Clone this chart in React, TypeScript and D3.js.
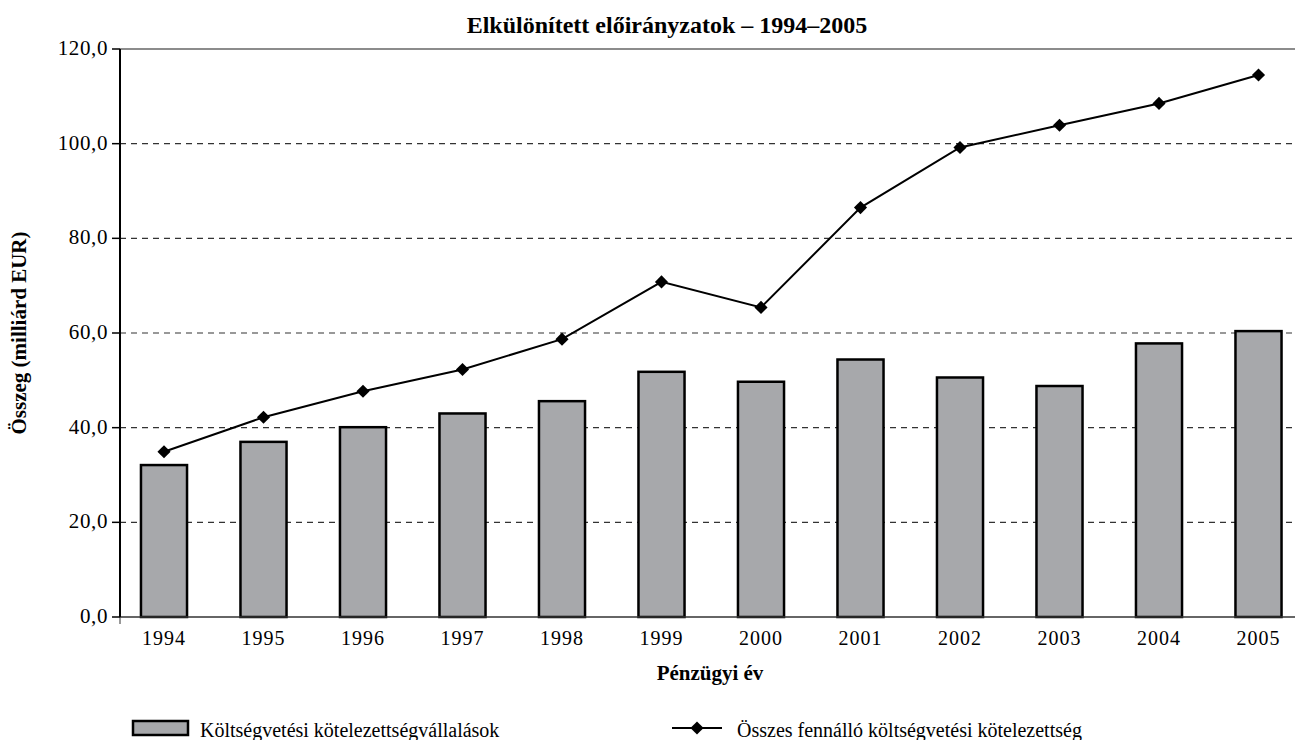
import React from 'react';
import * as d3 from 'd3';

const years = ['1994', '1995', '1996', '1997', '1998', '1999', '2000', '2001', '2002', '2003', '2004', '2005'];
const commitments = [32.1, 37.0, 40.1, 43.0, 45.6, 51.8, 49.7, 54.4, 50.6, 48.8, 57.8, 60.4];
const outstanding = [34.9, 42.2, 47.7, 52.3, 58.7, 70.8, 65.4, 86.5, 99.2, 103.9, 108.5, 114.5];
const yTicks = [0, 20, 40, 60, 80, 100, 120];

const title = 'Elkülönített előirányzatok – 1994–2005';
const yLabel = 'Összeg (milliárd EUR)';
const xLabel = 'Pénzügyi év';
const barLegend = 'Költségvetési kötelezettségvállalások';
const lineLegend = 'Összes fennálló költségvetési kötelezettség';

const W = 1295;
const H = 740;
const font = '"Liberation Serif", "DejaVu Serif", serif';

export default function App() {
  const axisX = 120;
  const x = d3.scaleBand<string>().domain(years).range([114.25, 1308.25]).paddingInner(0.537).paddingOuter(0.2685);
  const y = d3.scaleLinear().domain([0, 120]).range([617, 49]);
  const cx = (d: string) => (x(d) ?? 0) + x.bandwidth() / 2;

  const line = d3.line<number>()
    .x((_, i) => cx(years[i]))
    .y((v) => y(v));

  const diamond = d3.symbol().type(d3.symbolDiamond2).size(110)();
  const fmt = (v: number) => v.toFixed(1).replace('.', ',');

  return (
    <>
      <style>{'body{margin:0}'}</style>
      <svg width={W} height={H} style={{ display: 'block', fontFamily: font }}>
        <rect width={W} height={H} fill="#fff" />
        <text x={667} y={33} textAnchor="middle" fontSize={24} fontWeight="bold">{title}</text>

        {/* grid */}
        {yTicks.filter((t) => t > 0).map((t) => (
          <line key={t} x1={axisX} x2={W} y1={y(t)} y2={y(t)}
            stroke={t === 120 ? '#666' : '#333'} strokeWidth={t === 120 ? 1.5 : 1.1}
            strokeDasharray={t === 120 ? undefined : '6,5'} />
        ))}

        {/* bars */}
        {commitments.map((v, i) => (
          <rect key={years[i]} x={x(years[i])} y={y(v)} width={x.bandwidth()} height={y(0) - y(v)}
            fill="#a7a8ab" stroke="#000" strokeWidth={2.5} />
        ))}

        {/* x axis */}
        <line x1={axisX} x2={W} y1={y(0)} y2={y(0)} stroke="#333" strokeWidth={1.5} />
        <line x1={axisX} x2={axisX} y1={y(0)} y2={y(0) + 7} stroke="#333" strokeWidth={1} />
        {years.map((d) => (
          <text key={d} x={cx(d)} y={645} textAnchor="middle" fontSize={20} letterSpacing={1}>{d}</text>
        ))}

        {/* y axis */}
        <line x1={axisX} x2={axisX} y1={y(120)} y2={y(0)} stroke="#000" strokeWidth={2} />
        {yTicks.map((t) => (
          <g key={t}>
            <line x1={axisX - 8} x2={axisX} y1={y(t)} y2={y(t)} stroke="#000" strokeWidth={1.5} />
            <text x={108} y={y(t) + 6} textAnchor="end" fontSize={21} letterSpacing={0.6}>{fmt(t)}</text>
          </g>
        ))}

        {/* line series */}
        <path d={line(outstanding) ?? ''} fill="none" stroke="#000" strokeWidth={2} />
        {outstanding.map((v, i) => (
          <path key={years[i]} d={diamond ?? ''} transform={`translate(${cx(years[i])},${y(v)})`} fill="#000" />
        ))}

        <text transform={`translate(26,${(y(0) + y(120)) / 2}) rotate(-90)`} textAnchor="middle" fontSize={21} fontWeight="bold">{yLabel}</text>
        <text x={710} y={680} textAnchor="middle" fontSize={21} fontWeight="bold">{xLabel}</text>

        {/* legend */}
        <rect x={133} y={721} width={55} height={14} fill="#a7a8ab" stroke="#000" strokeWidth={2.5} />
        <text x={200} y={737} fontSize={20}>{barLegend}</text>
        <line x1={672} x2={722} y1={728} y2={728} stroke="#000" strokeWidth={2} />
        <path d={diamond ?? ''} transform="translate(697,728)" fill="#000" />
        <text x={737} y={737} fontSize={20}>{lineLegend}</text>
      </svg>
    </>
  );
}
